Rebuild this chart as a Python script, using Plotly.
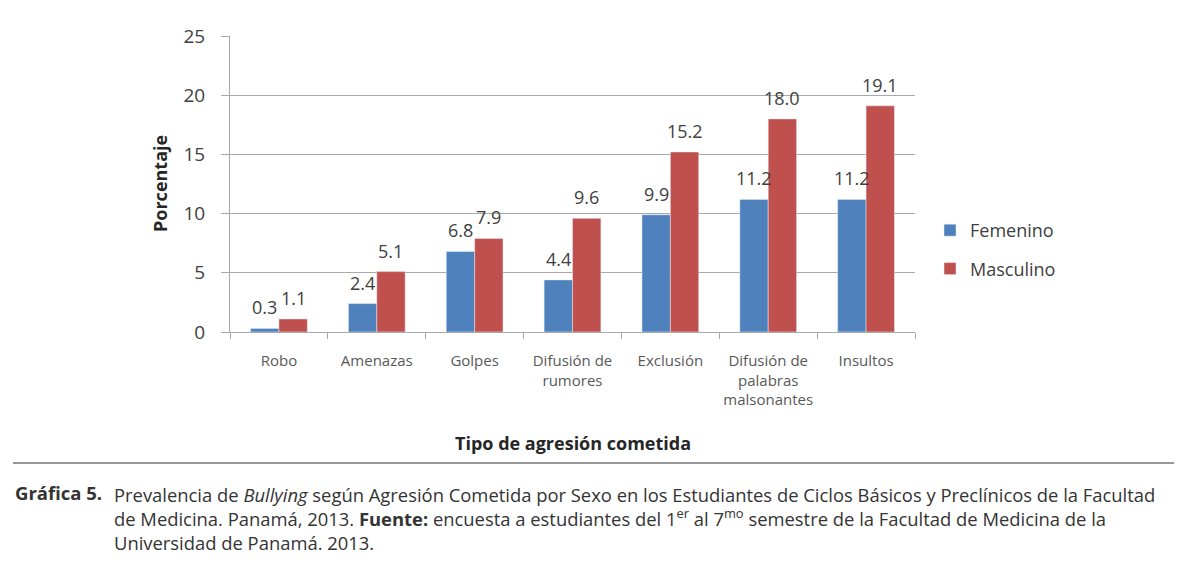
import plotly.graph_objects as go

categories = ["Robo", "Amenazas", "Golpes", "Difusión de<br>rumores", "Exclusión",
              "Difusión de<br>palabras<br>malsonantes", "Insultos"]
femenino = [0.3, 2.4, 6.8, 4.4, 9.9, 11.2, 11.2]
masculino = [1.1, 5.1, 7.9, 9.6, 15.2, 18.0, 19.1]
y_ticks = [0, 5, 10, 15, 20, 25]

OFF = 8  # page body margin
W, H = 1182 - OFF, 565 - OFF
# plot area in page pixels
L, R, T, B = 230, 915, 36, 332

def px(x):
    return (x - L) / (R - L)

def py(y):
    return (B - y) / (B - T)

font = "Open Sans, DejaVu Sans, sans-serif"
grid = "#a9a9a9"

BAR_GAP = 0.42
cat_w = (R - L) / len(categories)
half = cat_w * (1 - BAR_GAP) / 4  # offset of each bar centre from category centre

fig = go.Figure()
fig.add_trace(go.Bar(name="Femenino", x=categories, y=femenino, marker_color="#4F81BD",
                     legendgroup="f"))
fig.add_trace(go.Bar(name="Masculino", x=categories, y=masculino, marker_color="#C0504D",
                     legendgroup="m"))

for cat, v in zip(categories, femenino):
    fig.add_annotation(x=cat, y=v, text=f"{v:.1f}", showarrow=False, xshift=-half,
                       yshift=21, yanchor="middle", xanchor="center",
                       font=dict(size=18, color="#404040", family=font))
for cat, v in zip(categories, masculino):
    fig.add_annotation(x=cat, y=v, text=f"{v:.1f}", showarrow=False, xshift=half,
                       yshift=21, yanchor="middle", xanchor="center",
                       font=dict(size=18, color="#404040", family=font))

fig.update_layout(
    width=W, height=H,
    margin=dict(l=L - OFF, r=W - (R - OFF), t=T - OFF, b=H - (B - OFF), autoexpand=False),
    paper_bgcolor="white", plot_bgcolor="white",
    barmode="group", bargap=BAR_GAP, bargroupgap=0.0,
    font=dict(family=font, color="#404040"),
    legend=dict(x=px(930), y=py(212), xanchor="left", yanchor="top",
                font=dict(size=18, color="#404040", family=font),
                traceorder="grouped", tracegroupgap=12),
    xaxis=dict(showgrid=False, showline=True, linecolor=grid, linewidth=1,
               ticks="outside", ticklen=6, tickcolor=grid, tickson="boundaries",
               ticklabelstandoff=15, tickangle=0,
               tickfont=dict(size=15, color="#595959", family=font)),
    yaxis=dict(range=[0, 25], tickvals=y_ticks, showgrid=True, gridcolor=grid,
               gridwidth=1, showline=True, linecolor=grid, ticks="outside",
               ticklen=8, tickcolor=grid, zeroline=False, ticklabelstandoff=12,
               tickfont=dict(size=19, color="#404040", family=font)),
    showlegend=True,
)

fig.add_annotation(text="<b>Tipo de agresión cometida</b>", xref="paper", yref="paper",
                   x=0.5, y=py(443), xanchor="center", yanchor="middle", showarrow=False,
                   font=dict(size=18, color="#262626", family=font))
fig.add_annotation(text="<b>Porcentaje</b>", xref="paper", yref="paper",
                   x=px(160), y=py(184), xanchor="center", yanchor="middle", showarrow=False,
                   textangle=-90, font=dict(size=18, color="#262626", family=font))

fig.add_shape(type="line", xref="paper", yref="paper", x0=px(13), x1=px(1178),
              y0=py(463), y1=py(463), line=dict(color="#333333", width=1.2))

fig.add_annotation(text="<b>Gráfica 5.</b>", xref="paper", yref="paper",
                   x=px(13), y=py(492), xanchor="left", yanchor="middle", showarrow=False,
                   font=dict(size=18.5, color="#333333", family=font))
caption = ("Prevalencia de <i>Bullying</i> según Agresión Cometida por Sexo en los Estudiantes de Ciclos Básicos y Preclínicos de la Facultad<br>"
           "de Medicina. Panamá, 2013. <b>Fuente:</b> encuesta a estudiantes del 1<sup>er</sup> al 7<sup>mo</sup> semestre de la Facultad de Medicina de la<br>"
           "Universidad de Panamá. 2013.")
fig.add_annotation(text=caption, xref="paper", yref="paper",
                   x=px(112), y=py(480), xanchor="left", yanchor="top", align="left",
                   showarrow=False,
                   font=dict(size=18.4, color="#333333", family=font))

fig.write_html("out.html")
